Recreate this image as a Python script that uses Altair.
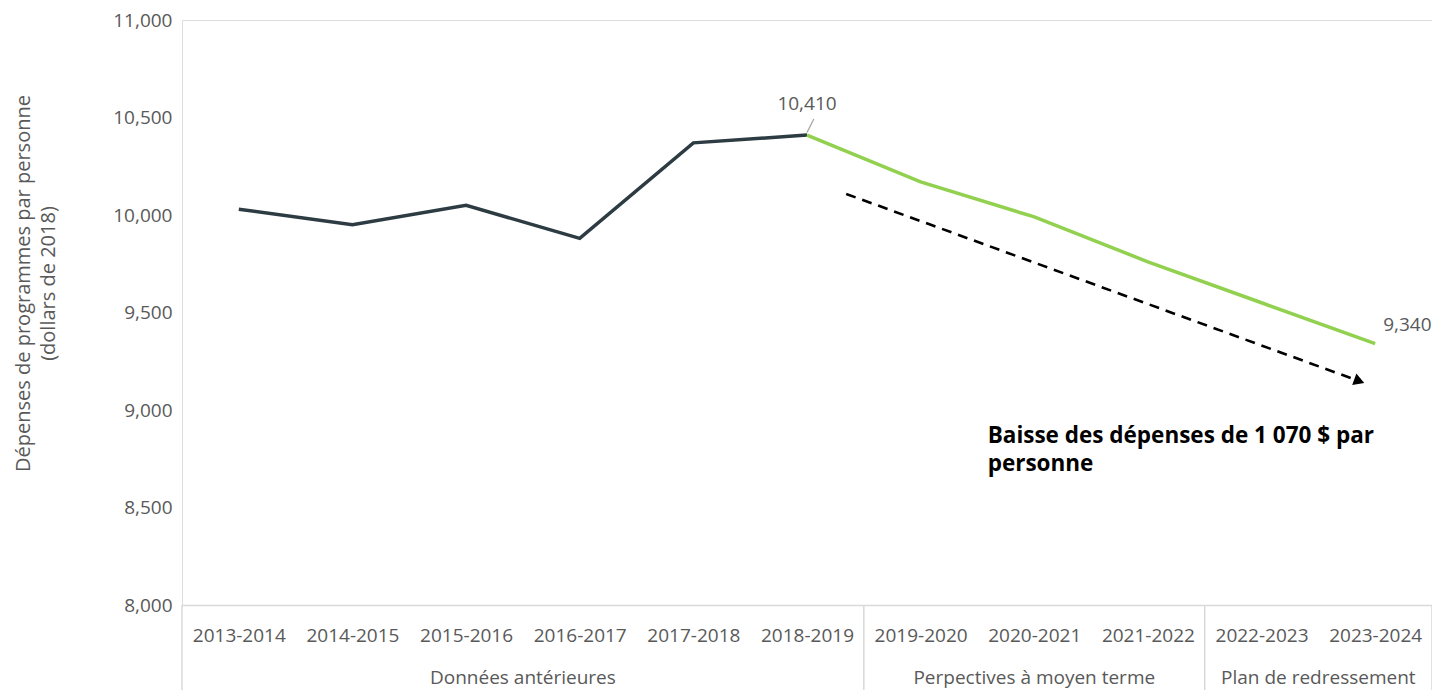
import json
import altair as alt
import pandas as pd

# ---------------- data ----------------
categories = ["2013-2014", "2014-2015", "2015-2016", "2016-2017", "2017-2018",
              "2018-2019", "2019-2020", "2020-2021", "2021-2022", "2022-2023",
              "2023-2024"]
values = [10030, 9950, 10050, 9880, 10370, 10410, 10170, 9990, 9760, 9550, 9340]
hist_count = 6          # Données antérieures (2013-2014 .. 2018-2019)

groups = ["Données antérieures", "Perpectives à moyen terme", "Plan de redressement"]
group_sizes = [6, 3, 2]

y_ticks = [8000, 8500, 9000, 9500, 10000, 10500, 11000]
y_title = ["Dépenses de programmes par personne", "(dollars de 2018)"]

# trend arrow annotation (in category-index / value space)
arrow_start = [5.345, 10108]
arrow_end = [9.86, 9148]
arrow_text = ["Baisse des dépenses de 1 070 $ par", "personne"]
arrow_text_pos = [6.59, 8831]

# value labels
labelled = [5, 10]

# ---------------- tables ----------------
idx = list(range(len(categories)))
hist = pd.DataFrame({"idx": idx[:hist_count], "value": values[:hist_count]})
proj = pd.DataFrame({"idx": idx[hist_count - 1:], "value": values[hist_count - 1:]})

starts = [sum(group_sizes[:i]) for i in range(len(group_sizes))]
grp = pd.DataFrame({
    "idx": [s + (n - 1) / 2 for s, n in zip(starts, group_sizes)],
    "label": groups,
})
bounds = pd.DataFrame({"idx": [s - 0.5 for s in starts] + [len(categories) - 0.5]})

lab_df = pd.DataFrame({
    "idx": labelled,
    "value": [values[i] for i in labelled],
    "txt": [f"{values[i]:,}" for i in labelled],
})

arrow_df = pd.DataFrame({"idx": [arrow_start[0]], "value": [arrow_start[1]],
                         "idx2": [arrow_end[0]], "value2": [arrow_end[1]]})
head_df = pd.DataFrame({"idx": [arrow_end[0]], "value": [arrow_end[1]]})
leader_df = pd.DataFrame({"idx": [5], "value": [10423], "idx2": [5.06], "value2": [10492]})
note_df = pd.DataFrame({"idx": [arrow_text_pos[0]], "value": [arrow_text_pos[1]]})

# ---------------- styling ----------------
FONT = "Open Sans"
GREY = "#595959"
DARK = "#2d3b42"
GREEN = "#92d050"
W, H = 1250, 585

xscale = alt.Scale(domain=[-0.5, len(categories) - 0.5], nice=False, zero=False)
yscale = alt.Scale(domain=[8000, 11000], nice=False, zero=False)

label_expr = json.dumps(categories) + "[datum.value]"

x_axis = alt.Axis(values=idx, labelExpr=label_expr, title=None, grid=False,
                  ticks=False, tickSize=0, domain=True, domainColor="#d9d9d9",
                  domainWidth=1.5, labelFont=FONT, labelFontSize=19,
                  labelColor=GREY, labelPadding=21, labelFlush=False,
                  labelOverlap=False, labelBound=False)
y_axis = alt.Axis(values=y_ticks, labelExpr="format(datum.value, ',.0f')",
                  grid=False, ticks=False,
                  domain=False, labelFont=FONT, labelFontSize=19,
                  labelColor=GREY, labelPadding=10, title=y_title,
                  titleFont=FONT, titleFontSize=20, titleFontWeight="normal",
                  titleColor=GREY, titleAngle=270, titleX=-159, titleY=263,
                  titleAlign="center", titleBaseline="middle",
                  titleLineHeight=25)


def X(f="idx"):
    return alt.X(f, type="quantitative", scale=xscale, axis=x_axis)


def Y(f="value"):
    return alt.Y(f, type="quantitative", scale=yscale, axis=y_axis)


hist_line = alt.Chart(hist).mark_line(color=DARK, strokeWidth=3.5).encode(
    x=X(), y=Y())
proj_line = alt.Chart(proj).mark_line(color=GREEN, strokeWidth=3.5).encode(
    x=X(), y=Y())

leader = alt.Chart(leader_df).mark_rule(color="#a6a6a6", strokeWidth=1.3).encode(
    x=X(), y=Y(), x2="idx2", y2="value2")

lab_offsets = {5: (0, -31, "center"), 10: (8, -19, "left")}
lab_layers = []
for i in labelled:
    dx, dy, al = lab_offsets[i]
    lab_layers.append(
        alt.Chart(lab_df[lab_df.idx == i]).mark_text(
            font=FONT, fontSize=19, color=GREY, align=al, baseline="middle",
            dx=dx, dy=dy).encode(x=X(), y=Y(), text="txt:N"))

arrow = alt.Chart(arrow_df).mark_rule(color="black", strokeWidth=2.6,
                                      strokeDash=[10, 7]).encode(
    x=X(), y=Y(), x2="idx2", y2="value2")
head = alt.Chart(head_df).mark_point(shape="triangle-right", filled=True,
                                     color="black", opacity=1, size=150,
                                     angle=20).encode(x=X(), y=Y())
note = alt.Chart(note_df).mark_text(text=arrow_text, font=FONT, fontSize=22.5,
                                    fontWeight="bold", color="black",
                                    align="left", baseline="alphabetic",
                                    lineHeight=28).encode(x=X(), y=Y())

sep = alt.Chart(bounds).mark_rule(color="#d9d9d9", strokeWidth=1.5).encode(
    x=X(), y=alt.value(H), y2=alt.value(H + 85))
grp_text = alt.Chart(grp).mark_text(font=FONT, fontSize=19, color=GREY,
                                    baseline="middle").encode(
    x=X(), y=alt.value(658), text="label:N")

chart = alt.layer(
    hist_line, proj_line, sep, leader, *lab_layers, arrow, head, note, grp_text
).properties(
    width=W, height=H,
    padding={"left": 174, "top": 12, "right": 0, "bottom": 85},
    autosize=alt.AutoSizeParams(type="none"),
).configure_view(strokeWidth=0).configure(font=FONT)

chart.save("out.html", embed_options={"renderer": "svg", "actions": False})
